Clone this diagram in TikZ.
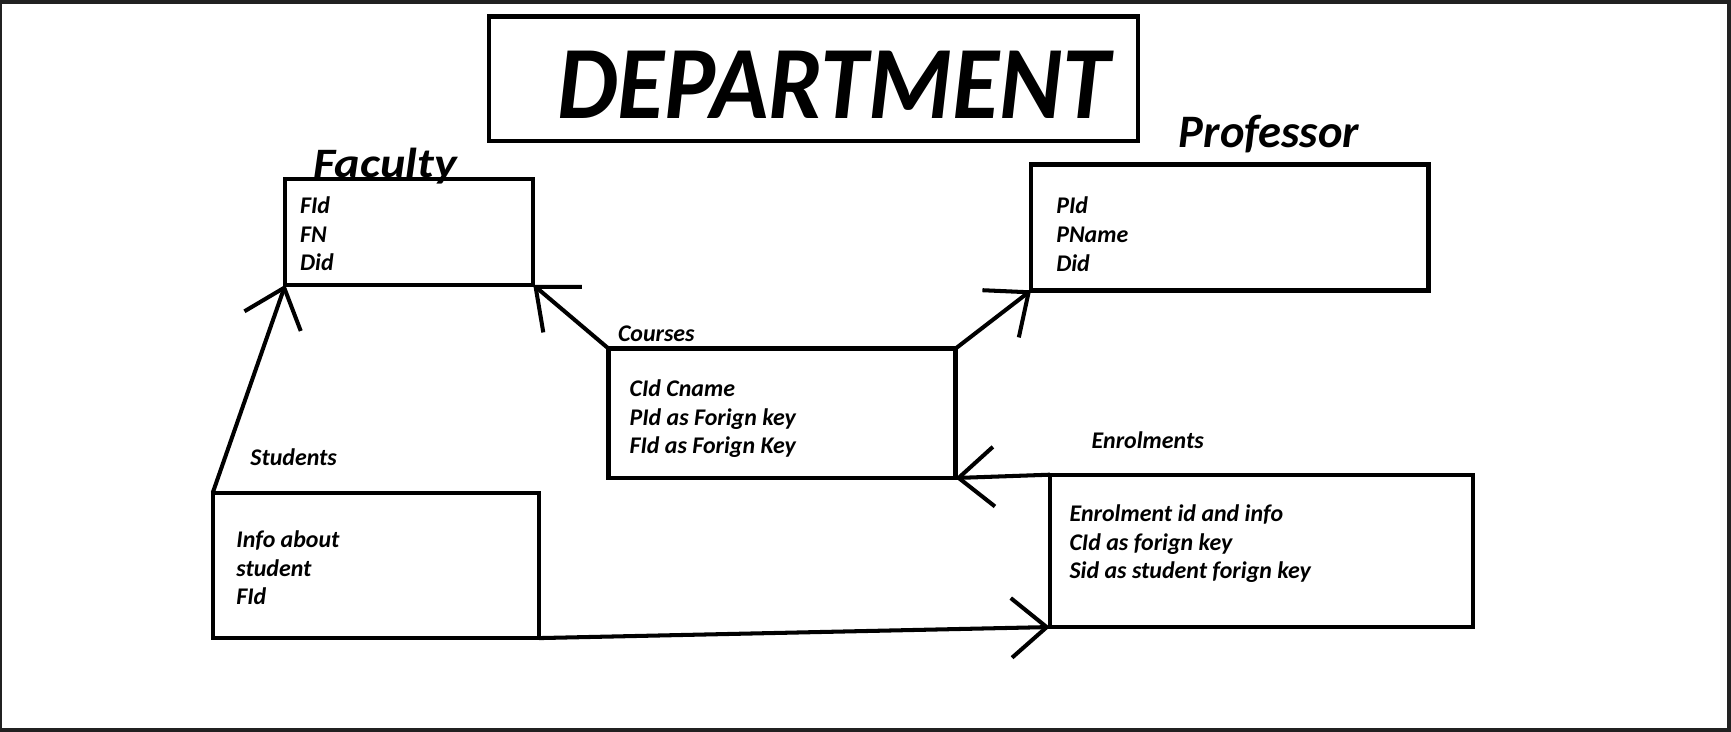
\documentclass[tikz,border=0pt]{standalone}
\usepackage{fontspec}
\setmainfont{Carlito}
\usetikzlibrary{positioning,arrows.meta}

\begin{document}
\begin{tikzpicture}[%
	x=0.25mm, y=-0.25mm,
	->, >={Straight Barb[length=8mm,width=13.5mm]},
	line width=2.6pt,
	tbl/.style={draw, rectangle, line width=2.8pt, inner sep=0pt, outer sep=0pt},
	rows/.style={inner sep=0pt, anchor=north west, align=left, font=\fontsize{15.4}{18.5}\selectfont\bfseries\itshape},
	lbl/.style={inner sep=0pt, anchor=base west, font=\fontsize{15.4}{18.5}\selectfont\bfseries\itshape},
	hdr/.style={inner sep=0pt, anchor=base west, font=\fontsize{30}{36}\selectfont\bfseries\itshape},
	frm/.style={fill=black!87}
	]
	\useasboundingbox (0,0) rectangle (1568,663);
	\fill[frm] (0,0) rectangle (1568,3.6);
	\fill[frm] (0,659.4) rectangle (1568,663);
	\fill[frm] (0,0) rectangle (1.8,663);
	\fill[frm] (1564.4,0) rectangle (1568,663);
	
	% titles
	\node[hdr, font=\fontsize{67}{80}\selectfont\bfseries\itshape] (deptname) at (503,107) {\scalebox{0.924}[1]{DEPARTMENT}};
	\node[hdr, font=\fontsize{27}{32}\selectfont\bfseries\itshape] (facname) at (282,161) {\scalebox{1.15}[1]{Faculty}};
	\node[hdr] (profname) at (1066,134) {Professor};
	\node[lbl] (crsname) at (558,309.5) {Courses};
	\node[lbl] (studname) at (225,422) {Students};
	\node[lbl] (enrname) at (987,406) {Enrolments};
	
	% tables
	\node[tbl, minimum width=147mm, minimum height=28.25mm] (dept) at (737,71.5) {};
	\node[tbl, minimum width=56.15mm, minimum height=24mm] (fac) at (370.7,210) {};
	\node[tbl, minimum width=90mm, minimum height=28.5mm] (prof) at (1114,206) {};
	\node[tbl, minimum width=78.55mm, minimum height=29.3mm] (crs) at (708.4,374.4) {};
	\node[tbl, minimum width=73.9mm, minimum height=32.9mm] (stud) at (340.5,512.2) {};
	\node[tbl, minimum width=95.75mm, minimum height=34.5mm] (enr) at (1142.5,499) {};
	
	\node[rows, below right=3.6mm and 2.9mm of fac.north west] (facrows) {FId\\FN\\Did};
	\node[rows, below right=6.9mm and 5.25mm of prof.north west] (profrows) {PId\\PName\\Did};
	\node[rows, below right=6.6mm and 4.3mm of crs.north west] (crsrows) {CId Cname\\PId as Forign key\\FId as Forign Key};
	\node[rows, below right=8.1mm and 4.9mm of stud.north west] (studrows) {Info about\\student\\FId};
	\node[rows, below right=6.3mm and 4mm of enr.north west] (enrrows) {Enrolment id and info\\CId as forign key\\Sid as student forign key};
	
	% links
	\draw (stud.north west) -- (fac.south west);
	\draw (crs.north west) -- (fac.south east);
	\draw (crs.north east) -- (prof.south west);
	\draw (enr.north west) -- (crs.south east);
	\draw (stud.south east) -- (enr.south west);
\end{tikzpicture}
\end{document}
